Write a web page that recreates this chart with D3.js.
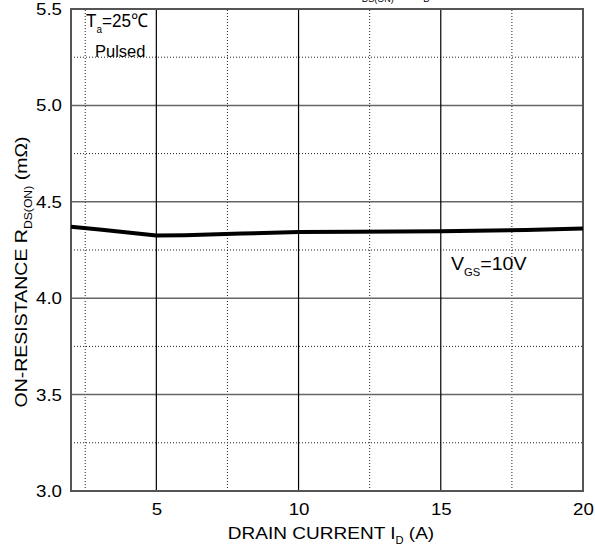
<!DOCTYPE html>
<html><head><meta charset="utf-8">
<script src="https://cdn.jsdelivr.net/npm/d3@7"></script>
<style>body{margin:0;background:#fff}svg{display:block}text{font-family:"Liberation Sans",Arial,sans-serif}</style>
</head><body><div id="c"></div>
<script>
const currentA = [2, 3, 4, 5, 6, 8, 10, 12, 15, 18, 20];
const rdsOn = [4.37, 4.356, 4.341, 4.325, 4.327, 4.335, 4.343, 4.345, 4.347, 4.354, 4.362];
const xMajorTicks = [5, 10, 15, 20];
const xMinorTicks = [2.5, 7.5, 12.5, 17.5];
const yMajorTicks = [3.0, 3.5, 4.0, 4.5, 5.0, 5.5];
const yMinorTicks = [3.25, 3.75, 4.25, 4.75, 5.25];

const W = 595, H = 548;
const m = {l: 71, r: 12, t: 9, b: 57};
const svg = d3.select("#c").append("svg").attr("width", W).attr("height", H);
const x = d3.scaleLinear().domain([2, 20]).range([m.l, W - m.r]);
const y = d3.scaleLinear().domain([3.0, 5.5]).range([H - m.b, m.t]);

// minor dotted grid
svg.append("g").selectAll("line").data(xMinorTicks).join("line")
  .attr("x1", d => x(d)).attr("x2", d => x(d)).attr("y1", y(3)).attr("y2", y(5.5))
  .attr("stroke", "#222").attr("stroke-width", 1).attr("stroke-dasharray", "1,2");
svg.append("g").selectAll("line").data(yMinorTicks).join("line")
  .attr("y1", d => y(d)).attr("y2", d => y(d)).attr("x1", x(2)).attr("x2", x(20))
  .attr("stroke", "#222").attr("stroke-width", 1).attr("stroke-dasharray", "1,2");
// major grid
svg.append("g").selectAll("line").data(yMajorTicks.filter(d => d > 3 && d < 5.5)).join("line")
  .attr("y1", d => y(d)).attr("y2", d => y(d)).attr("x1", x(2)).attr("x2", x(20))
  .attr("stroke", "#666").attr("stroke-width", 1.5);
svg.append("g").selectAll("line").data(xMajorTicks.filter(d => d < 20)).join("line")
  .attr("x1", d => x(d)).attr("x2", d => x(d)).attr("y1", y(3)).attr("y2", y(5.5))
  .attr("stroke", "#000").attr("stroke-width", 1.2);
// frame
svg.append("rect").attr("x", x(2)).attr("y", y(5.5)).attr("width", x(20) - x(2)).attr("height", y(3) - y(5.5))
  .attr("fill", "none").attr("stroke", "#555").attr("stroke-width", 2);

// axes
const xAxis = d3.axisBottom(x).tickValues(xMajorTicks).tickSize(0).tickPadding(12).tickFormat(d3.format("d"));
const gx = svg.append("g").attr("transform", `translate(0,${y(3)})`).call(xAxis);
gx.select(".domain").remove();
gx.selectAll("text").attr("font-size", 17).attr("fill", "#000").attr("font-family", "Liberation Sans")
  .attr("x", 0).attr("transform", "scale(1.1,1)");
const yAxis = d3.axisLeft(y).tickValues(yMajorTicks).tickSize(0).tickPadding(9).tickFormat(d3.format(".1f"));
const gy = svg.append("g").attr("transform", `translate(${x(2)},0)`).call(yAxis);
gy.select(".domain").remove();
gy.selectAll("text").attr("font-size", 17).attr("fill", "#000").attr("font-family", "Liberation Sans")
  .attr("transform", "scale(1.1,1)").attr("x", -9 / 1.1);

// helper: stretched text group
function label(tx, ty, rot, sx, size, anchor, family) {
  const g = svg.append("g").attr("transform", `translate(${tx},${ty}) rotate(${rot}) scale(${sx},1)`);
  const t = g.append("text").attr("text-anchor", anchor).attr("font-size", size);
  if (family) t.attr("font-family", family);
  return t;
}

// curve
const line = d3.line().x((d, i) => x(currentA[i])).y(d => y(d));
svg.append("path").datum(rdsOn).attr("d", line).attr("fill", "none")
  .attr("stroke", "#000").attr("stroke-width", 4).attr("stroke-linejoin", "round");

// labels
const xl = label(331, 539, 0, 1.12, 17, "middle");
xl.append("tspan").text("DRAIN CURRENT I");
xl.append("tspan").text("D").attr("font-size", 10).attr("dy", 5);
xl.append("tspan").text(" (A)").attr("dy", -5);

const yl = label(27, 272, -90, 1.22, 16, "middle");
yl.append("tspan").text("ON-RESISTANCE R");
yl.append("tspan").text("DS(ON)").attr("font-size", 10).attr("dy", 5);
yl.append("tspan").text(" (mΩ)").attr("dy", -5);

// title (clipped at top, as in reference)
const tl = label(390, -3, 0, 1, 16, "middle");
tl.append("tspan").text("R");
tl.append("tspan").text("DS(ON)").attr("font-size", 9).attr("dy", 5);
tl.append("tspan").text(" — I").attr("dy", -5);
tl.append("tspan").text("D").attr("font-size", 9).attr("dy", 5);

const ta = label(86, 27, 0, 0.9, 19, "start", "Open Sans");
ta.append("tspan").text("T");
ta.append("tspan").text("a").attr("font-size", 11).attr("dy", 6);
ta.append("tspan").text("=25℃").attr("dy", -6);
label(95, 57, 0, 1, 16.5, "start", "Open Sans").text("Pulsed");

const vg = label(451, 270, 0, 1.12, 17.5, "start");
vg.append("tspan").text("V");
vg.append("tspan").text("GS").attr("font-size", 10).attr("dy", 6);
vg.append("tspan").text("=10V").attr("dy", -6);
</script></body></html>
